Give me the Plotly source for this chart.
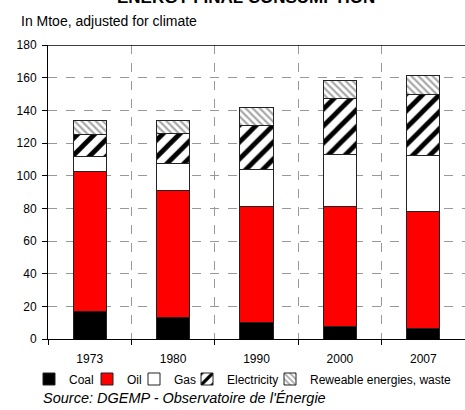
import plotly.graph_objects as go

years = ["1973", "1980", "1990", "2000", "2007"]
coal = [17, 13, 10, 7.5, 6.5]
oil = [85.5, 78, 71, 73.5, 71.5]
gas = [9, 16.5, 23, 32, 34.5]
electricity = [13.5, 18.5, 27, 34, 37.5]
renewables = [9, 7.5, 10.5, 11.5, 11.5]

FONT = "Liberation Sans"
W, H = 465, 410
L, T, B = 48, 45, 71
PW, PH = W - L, H - T - B


def px_x(px):
    return (px - L) / PW


def px_y(py):
    return (H - B - py) / PH


fig = go.Figure()
line = dict(color="#222222", width=1)
fig.add_bar(x=years, y=coal, name="Coal", legend="legend",
            marker=dict(color="black", line=line))
fig.add_bar(x=years, y=oil, name="Oil", legend="legend2",
            marker=dict(color="#ff0000", line=line))
fig.add_bar(x=years, y=gas, name="Gas", legend="legend3",
            marker=dict(color="white", line=line))
fig.add_bar(x=years, y=electricity, name="Electricity", legend="legend4",
            marker=dict(color="white", line=line,
                        pattern=dict(shape="/", fgcolor="black", bgcolor="white",
                                     fgopacity=1, size=12, solidity=0.4,
                                     fillmode="overlay")))
fig.add_bar(x=years, y=renewables, name="Reweable energies, waste", legend="legend5",
            marker=dict(color="white", line=line,
                        pattern=dict(shape="\\", fgcolor="#a8a8a8", bgcolor="white",
                                     fgopacity=1, size=5, solidity=0.45,
                                     fillmode="overlay")))


def leg(px):
    return dict(orientation="h", xref="container", yref="container",
                x=px / W, xanchor="left", y=1 - 379 / H, yanchor="middle",
                font=dict(size=12, family=FONT), itemwidth=30,
                bgcolor="rgba(0,0,0,0)", borderwidth=0)


leg_x = [29, 87, 134, 187, 270]

fig.update_layout(
    width=W, height=H,
    margin=dict(l=L, r=0, t=T, b=B, autoexpand=False),
    barmode="stack", bargap=0.6,
    plot_bgcolor="white", paper_bgcolor="white",
    font=dict(family=FONT, size=12, color="black"),
    showlegend=True,
    legend=leg(leg_x[0]), legend2=leg(leg_x[1]), legend3=leg(leg_x[2]),
    legend4=leg(leg_x[3]), legend5=leg(leg_x[4]),
    xaxis=dict(type="category", tickson="boundaries", ticks="outside", ticklen=5,
               tickcolor="black", showline=True, linecolor="black", linewidth=1,
               showgrid=True, gridcolor="#999999", griddash="dash", gridwidth=1,
               tickfont=dict(size=12), ticklabelstandoff=9),
    yaxis=dict(range=[0, 180], dtick=20, ticks="outside", ticklen=5, tickcolor="black",
               showline=True, linecolor="black", linewidth=1,
               showgrid=True, gridcolor="#999999", griddash="dash", gridwidth=1,
               zeroline=False, tickfont=dict(size=12), ticklabelstandoff=3),
    shapes=[dict(type="line", xref="paper", yref="y", x0=0, x1=1, y0=180, y1=180,
                 line=dict(color="black", width=1.5))],
    annotations=[
        dict(text="<b>ENERGY FINAL CONSUMPTION</b>", xref="paper", yref="paper",
             x=px_x(246), y=px_y(-3), xanchor="center", yanchor="middle",
             showarrow=False, font=dict(size=17, family=FONT)),
        dict(text="In Mtoe, adjusted for climate", xref="paper", yref="paper",
             x=px_x(19), y=px_y(21), xanchor="left", yanchor="middle",
             showarrow=False, font=dict(size=14, family=FONT)),
        dict(text="<i>Source: DGEMP - Observatoire de l'Énergie</i>", xref="paper",
             yref="paper", x=px_x(41), y=px_y(398), xanchor="left", yanchor="middle",
             showarrow=False, font=dict(size=14.5, family=FONT)),
    ],
)
fig.write_html("out.html")
